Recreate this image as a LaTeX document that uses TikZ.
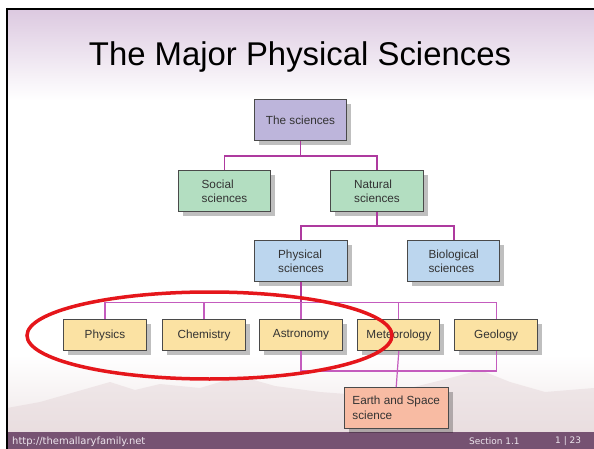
\documentclass[tikz,border=0pt]{standalone}
\usepackage{fontspec}
\setmainfont{Liberation Sans}
\newfontfamily\footfont{DejaVu Sans}
\usetikzlibrary{shadows}
\definecolor{boxline}{HTML}{4A4A4A}
\definecolor{txt}{HTML}{333333}
\definecolor{lav}{HTML}{BDB5DB}
\definecolor{mint}{HTML}{B3DEC1}
\definecolor{sky}{HTML}{BCD6EE}
\definecolor{cream}{HTML}{FBE2A3}
\definecolor{salmon}{HTML}{F8BBA3}
\definecolor{connA}{HTML}{AE3A9F}
\definecolor{connB}{HTML}{C45CBE}
\definecolor{ringred}{HTML}{E5161B}
\definecolor{barpurple}{HTML}{765272}
\definecolor{bannertop}{HTML}{DCC9E0}
\definecolor{footbg}{HTML}{EFE7E8}
\definecolor{mount}{HTML}{E3D3D6}
\definecolor{foottxt}{HTML}{ECE4EC}
\begin{document}
\begin{tikzpicture}[x=1bp,y=-1bp,
  box/.style={draw=boxline, line width=1bp, text=txt, inner sep=0pt, align=left,
    font=\fontsize{11.8}{14.5}\selectfont,
    drop shadow={shadow xshift=4.5bp, shadow yshift=-4.5bp, fill=black, opacity=.25}},
  bigbox/.style={box, minimum width=92.5bp, minimum height=41bp},
  rowbox/.style={box, minimum width=82.3bp, minimum height=31.4bp},
  connup/.style={draw=connA, line width=1.6bp},
  conndown/.style={draw=connB, line width=1.2bp},
  foot/.style={text=foottxt, inner sep=0pt, anchor=base west}
]
\useasboundingbox (0,0) rectangle (594,449);
% background
\fill[white] (0,0) rectangle (594,449);
\shade[top color=bannertop, bottom color=white] (7,9) rectangle (594,100);
\shade[top color=white, bottom color=footbg] (7,355) rectangle (594,432);
\fill[mount, opacity=.45] (7,432) -- (7,408) -- (40,402) -- (75,392) -- (110,382) -- (135,390) -- (160,384) -- (200,388) -- (240,376) -- (275,386) -- (320,392) -- (360,395) -- (410,388) -- (450,378) -- (480,370) -- (510,382) -- (545,392) -- (594,388) -- (594,432) -- cycle;
\fill[barpurple] (7,432) rectangle (594,449);
\draw[black, line width=2bp] (6,9) -- (594,9);
\draw[black, line width=2.5bp] (7,8) -- (7,449);
% title
\node[font=\fontsize{33}{36}\selectfont, anchor=base, inner sep=0pt] (title) at (300,66) {The Major Physical Sciences};
% nodes
\node[bigbox, fill=lav] (sci) at (300.5,120.5) {The sciences};
\node[bigbox, fill=mint] (soc) at (224.5,191.3) {Social\\sciences};
\node[bigbox, fill=mint] (nat) at (377,191.3) {Natural\\sciences};
\node[bigbox, fill=sky] (phy) at (301,261.3) {Physical\\sciences};
\node[bigbox, fill=sky] (bio) at (453.7,261.3) {Biological\\sciences};
\node[rowbox, fill=cream] (phys) at (105,335) {Physics};
\node[rowbox, fill=cream] (chem) at (204,335) {Chemistry};
\node[rowbox, fill=cream] (astr) at (301,335) {Astronomy};
\node[rowbox, fill=cream] (mete) at (398.8,335) {Meteorology};
\node[rowbox, fill=cream] (geol) at (496.1,335) {Geology};
\node[box, fill=salmon, minimum width=104.3bp, minimum height=40.6bp] (earth) at (396.2,408) {Earth and Space\\science};
% connectors
\coordinate (b1) at (300.5,156);
\coordinate (b2) at (377,226);
\coordinate (b3) at (301,302.3);
\coordinate (b4) at (398.8,371);
\draw[connup] (sci.south) -- (b1);
\draw[connup] (soc.north) |- (b1) -| (nat.north);
\draw[connup] (nat.south) -- (b2);
\draw[connup] (phy.north) |- (b2) -| (bio.north);
\draw[connup] (phy.south) -- (b3);
\draw[conndown] (b3) -- (astr.north);
\draw[conndown] (phys.north) |- (b3) -| (geol.north);
\draw[conndown] (chem.north) -- (chem.north |- b3);
\draw[conndown] (mete.north) -- (mete.north |- b3);
\draw[conndown] (astr.south) |- (b4) -| (geol.south);
\draw[conndown] (mete.south) -- (earth.north);
% highlight ring
\draw[ringred, line width=3.5bp] (209.5,335.5) ellipse [x radius=182.5, y radius=43.5];
% footer
\node[foot, font=\footfont\fontsize{10}{12}\selectfont] (url) at (12,444) {http://themallaryfamily.net};
\node[foot, font=\footfont\fontsize{9}{11}\selectfont] (sect) at (469,444) {Section 1.1};
\node[foot, font=\footfont\fontsize{9}{11}\selectfont] (page) at (555,443) {1 | 23};
\end{tikzpicture}
\end{document}
